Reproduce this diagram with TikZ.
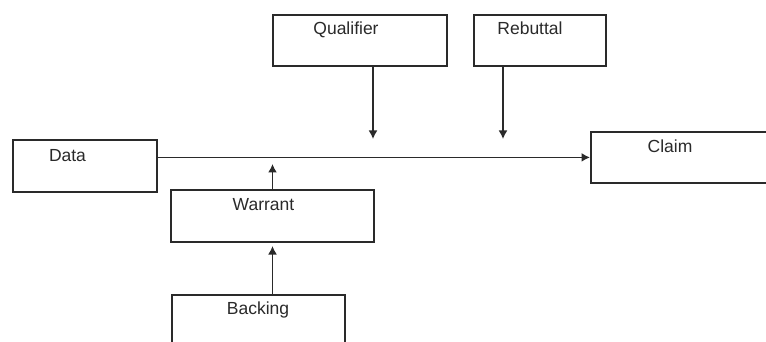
\documentclass[tikz,border=0pt]{standalone}
\usepackage{fontspec}
\setmainfont{Liberation Sans}
\usetikzlibrary{arrows.meta}
\definecolor{ink}{HTML}{2A2A2A}
\tikzset{
  box/.style={draw=ink, line width=1.8pt, rectangle, anchor=north west, inner sep=0pt},
  lbl/.style={anchor=base, inner sep=0pt, text=ink, font=\fontsize{17.5}{20}\selectfont},
  arr/.style={draw=ink, line width=1.6pt, -{Latex[length=8.5pt,width=9pt]}},
}
\begin{document}
\begin{tikzpicture}[x=1pt,y=-1pt]
\useasboundingbox (0,0) rectangle (766,342);
\fill[white] (0,0) rectangle (766,342);
\clip (0,0) rectangle (766,342);
% boxes
\node[box, minimum width=144pt, minimum height=52pt] (data) at (12,139) {};
\node[box, minimum width=174pt, minimum height=51pt] (qual) at (272,14) {};
\node[box, minimum width=132pt, minimum height=51pt] (reb) at (473,14) {};
\node[box, minimum width=220pt, minimum height=51pt] (claim) at (590,131) {};
\node[box, minimum width=203pt, minimum height=52pt] (warrant) at (170,189) {};
\node[box, minimum width=173pt, minimum height=90pt] (backing) at (171,294) {};
% labels
\node[lbl] (tdata) at (67.5,161) {Data};
\node[lbl] (tqual) at (346,35) {Qualifier};
\node[lbl] (treb) at (530,35) {Rebuttal};
\node[lbl] (tclaim) at (670,153) {Claim};
\node[lbl] (twar) at (263.5,211) {Warrant};
\node[lbl] (tback) at (258,314) {Backing};
% arrow tips
\coordinate (qtip) at (373,139);
\coordinate (rtip) at (503,139);
\coordinate (wtip) at (272.5,164);
\coordinate (btip) at (272.5,246);
% connectors
\draw[arr] (data.east |- claim.west) -- (claim.west);
\draw[arr] (qtip |- qual.south) -- (qtip);
\draw[arr] (rtip |- reb.south) -- (rtip);
\draw[arr] (wtip |- warrant.north) -- (wtip);
\draw[arr] (btip |- backing.north) -- (btip);
\end{tikzpicture}
\end{document}
